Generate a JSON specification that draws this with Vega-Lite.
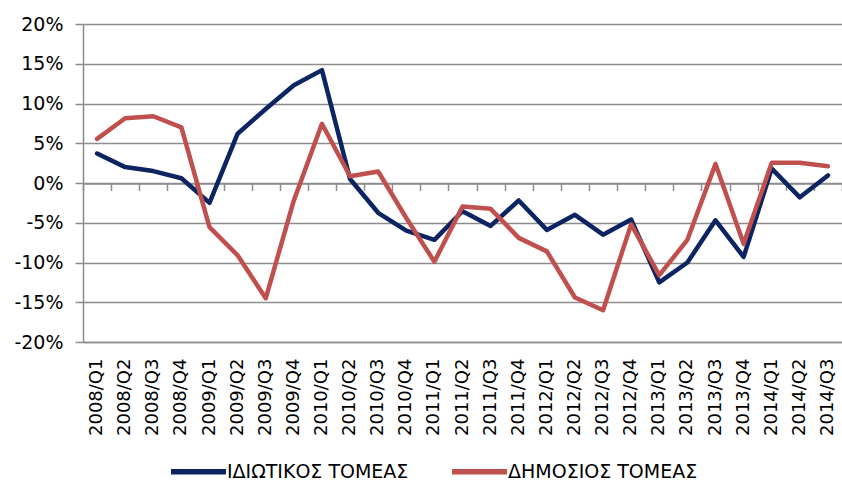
{
  "$schema": "https://vega.github.io/schema/vega-lite/v6.json",
  "autosize": "none",
  "width": 759,
  "height": 318,
  "padding": {"left": 83, "top": 24, "right": 0, "bottom": 142},
  "background": "white",
  "config": {
    "view": {"stroke": null},
    "font": "DejaVu Sans"
  },
  "data": {
    "values": [
      {"q": "2008/Q1", "s": "ΙΔΙΩΤΙΚΟΣ ΤΟΜΕΑΣ", "v": 3.7},
      {"q": "2008/Q2", "s": "ΙΔΙΩΤΙΚΟΣ ΤΟΜΕΑΣ", "v": 2.0},
      {"q": "2008/Q3", "s": "ΙΔΙΩΤΙΚΟΣ ΤΟΜΕΑΣ", "v": 1.5},
      {"q": "2008/Q4", "s": "ΙΔΙΩΤΙΚΟΣ ΤΟΜΕΑΣ", "v": 0.6},
      {"q": "2009/Q1", "s": "ΙΔΙΩΤΙΚΟΣ ΤΟΜΕΑΣ", "v": -2.5},
      {"q": "2009/Q2", "s": "ΙΔΙΩΤΙΚΟΣ ΤΟΜΕΑΣ", "v": 6.2},
      {"q": "2009/Q3", "s": "ΙΔΙΩΤΙΚΟΣ ΤΟΜΕΑΣ", "v": 9.3},
      {"q": "2009/Q4", "s": "ΙΔΙΩΤΙΚΟΣ ΤΟΜΕΑΣ", "v": 12.3},
      {"q": "2010/Q1", "s": "ΙΔΙΩΤΙΚΟΣ ΤΟΜΕΑΣ", "v": 14.2},
      {"q": "2010/Q2", "s": "ΙΔΙΩΤΙΚΟΣ ΤΟΜΕΑΣ", "v": 0.5},
      {"q": "2010/Q3", "s": "ΙΔΙΩΤΙΚΟΣ ΤΟΜΕΑΣ", "v": -3.75},
      {"q": "2010/Q4", "s": "ΙΔΙΩΤΙΚΟΣ ΤΟΜΕΑΣ", "v": -6.0},
      {"q": "2011/Q1", "s": "ΙΔΙΩΤΙΚΟΣ ΤΟΜΕΑΣ", "v": -7.15},
      {"q": "2011/Q2", "s": "ΙΔΙΩΤΙΚΟΣ ΤΟΜΕΑΣ", "v": -3.55},
      {"q": "2011/Q3", "s": "ΙΔΙΩΤΙΚΟΣ ΤΟΜΕΑΣ", "v": -5.4},
      {"q": "2011/Q4", "s": "ΙΔΙΩΤΙΚΟΣ ΤΟΜΕΑΣ", "v": -2.2},
      {"q": "2012/Q1", "s": "ΙΔΙΩΤΙΚΟΣ ΤΟΜΕΑΣ", "v": -5.9},
      {"q": "2012/Q2", "s": "ΙΔΙΩΤΙΚΟΣ ΤΟΜΕΑΣ", "v": -4.0},
      {"q": "2012/Q3", "s": "ΙΔΙΩΤΙΚΟΣ ΤΟΜΕΑΣ", "v": -6.5},
      {"q": "2012/Q4", "s": "ΙΔΙΩΤΙΚΟΣ ΤΟΜΕΑΣ", "v": -4.6},
      {"q": "2013/Q1", "s": "ΙΔΙΩΤΙΚΟΣ ΤΟΜΕΑΣ", "v": -12.5},
      {"q": "2013/Q2", "s": "ΙΔΙΩΤΙΚΟΣ ΤΟΜΕΑΣ", "v": -10.0},
      {"q": "2013/Q3", "s": "ΙΔΙΩΤΙΚΟΣ ΤΟΜΕΑΣ", "v": -4.7},
      {"q": "2013/Q4", "s": "ΙΔΙΩΤΙΚΟΣ ΤΟΜΕΑΣ", "v": -9.3},
      {"q": "2014/Q1", "s": "ΙΔΙΩΤΙΚΟΣ ΤΟΜΕΑΣ", "v": 1.8},
      {"q": "2014/Q2", "s": "ΙΔΙΩΤΙΚΟΣ ΤΟΜΕΑΣ", "v": -1.8},
      {"q": "2014/Q3", "s": "ΙΔΙΩΤΙΚΟΣ ΤΟΜΕΑΣ", "v": 0.95},
      {"q": "2008/Q1", "s": "ΔΗΜΟΣΙΟΣ ΤΟΜΕΑΣ", "v": 5.55},
      {"q": "2008/Q2", "s": "ΔΗΜΟΣΙΟΣ ΤΟΜΕΑΣ", "v": 8.15},
      {"q": "2008/Q3", "s": "ΔΗΜΟΣΙΟΣ ΤΟΜΕΑΣ", "v": 8.4},
      {"q": "2008/Q4", "s": "ΔΗΜΟΣΙΟΣ ΤΟΜΕΑΣ", "v": 7.0},
      {"q": "2009/Q1", "s": "ΔΗΜΟΣΙΟΣ ΤΟΜΕΑΣ", "v": -5.55},
      {"q": "2009/Q2", "s": "ΔΗΜΟΣΙΟΣ ΤΟΜΕΑΣ", "v": -9.1},
      {"q": "2009/Q3", "s": "ΔΗΜΟΣΙΟΣ ΤΟΜΕΑΣ", "v": -14.5},
      {"q": "2009/Q4", "s": "ΔΗΜΟΣΙΟΣ ΤΟΜΕΑΣ", "v": -2.2},
      {"q": "2010/Q1", "s": "ΔΗΜΟΣΙΟΣ ΤΟΜΕΑΣ", "v": 7.45},
      {"q": "2010/Q2", "s": "ΔΗΜΟΣΙΟΣ ΤΟΜΕΑΣ", "v": 0.85},
      {"q": "2010/Q3", "s": "ΔΗΜΟΣΙΟΣ ΤΟΜΕΑΣ", "v": 1.45},
      {"q": "2010/Q4", "s": "ΔΗΜΟΣΙΟΣ ΤΟΜΕΑΣ", "v": -4.4},
      {"q": "2011/Q1", "s": "ΔΗΜΟΣΙΟΣ ΤΟΜΕΑΣ", "v": -9.9},
      {"q": "2011/Q2", "s": "ΔΗΜΟΣΙΟΣ ΤΟΜΕΑΣ", "v": -2.95},
      {"q": "2011/Q3", "s": "ΔΗΜΟΣΙΟΣ ΤΟΜΕΑΣ", "v": -3.25},
      {"q": "2011/Q4", "s": "ΔΗΜΟΣΙΟΣ ΤΟΜΕΑΣ", "v": -6.9},
      {"q": "2012/Q1", "s": "ΔΗΜΟΣΙΟΣ ΤΟΜΕΑΣ", "v": -8.6},
      {"q": "2012/Q2", "s": "ΔΗΜΟΣΙΟΣ ΤΟΜΕΑΣ", "v": -14.4},
      {"q": "2012/Q3", "s": "ΔΗΜΟΣΙΟΣ ΤΟΜΕΑΣ", "v": -16.0},
      {"q": "2012/Q4", "s": "ΔΗΜΟΣΙΟΣ ΤΟΜΕΑΣ", "v": -5.2},
      {"q": "2013/Q1", "s": "ΔΗΜΟΣΙΟΣ ΤΟΜΕΑΣ", "v": -11.6},
      {"q": "2013/Q2", "s": "ΔΗΜΟΣΙΟΣ ΤΟΜΕΑΣ", "v": -7.15},
      {"q": "2013/Q3", "s": "ΔΗΜΟΣΙΟΣ ΤΟΜΕΑΣ", "v": 2.4},
      {"q": "2013/Q4", "s": "ΔΗΜΟΣΙΟΣ ΤΟΜΕΑΣ", "v": -7.65},
      {"q": "2014/Q1", "s": "ΔΗΜΟΣΙΟΣ ΤΟΜΕΑΣ", "v": 2.55},
      {"q": "2014/Q2", "s": "ΔΗΜΟΣΙΟΣ ΤΟΜΕΑΣ", "v": 2.55},
      {"q": "2014/Q3", "s": "ΔΗΜΟΣΙΟΣ ΤΟΜΕΑΣ", "v": 2.1}
    ]
  },
  "resolve": {"axis": {"x": "independent"}},
  "layer": [
    {
      "mark": {"type": "point", "opacity": 0},
      "encoding": {
        "x": {
          "field": "q", "type": "ordinal",
          "scale": {"type": "band", "paddingInner": 0, "paddingOuter": 0},
          "axis": {
            "orient": "bottom", "offset": -158.5, "title": null, "labels": false,
            "tickBand": "extent", "tickSize": 7, "tickColor": "#8c8c8c", "tickWidth": 1.5,
            "domainColor": "#8c8c8c", "domainWidth": 1.5, "grid": false
          }
        }
      }
    },
    {
      "mark": {"type": "line", "strokeWidth": 4.5, "strokeJoin": "round", "strokeCap": "round"},
      "encoding": {
        "x": {
          "field": "q", "type": "ordinal",
          "scale": {"type": "band", "paddingInner": 0, "paddingOuter": 0},
          "axis": {
            "orient": "bottom", "title": null, "labelAngle": 270, "labelAlign": "right",
            "labelBaseline": "middle", "labelFontSize": 18, "labelColor": "#000000",
            "labelPadding": 16, "ticks": false, "domainColor": "#8c8c8c", "domainWidth": 1.5,
            "grid": false
          }
        },
        "y": {
          "field": "v", "type": "quantitative",
          "scale": {"domain": [-20, 20], "nice": false, "zero": false},
          "axis": {
            "title": null, "values": [-20, -15, -10, -5, 0, 5, 10, 15, 20],
            "labelExpr": "datum.value + '%'", "labelFontSize": 19, "labelColor": "#000000",
            "labelPadding": 12, "tickSize": 8, "tickColor": "#8c8c8c", "tickWidth": 1.5,
            "domainColor": "#8c8c8c", "domainWidth": 1.5,
            "grid": true, "gridColor": "#8c8c8c", "gridWidth": 1.5
          }
        },
        "color": {
          "field": "s", "type": "nominal",
          "sort": ["ΙΔΙΩΤΙΚΟΣ ΤΟΜΕΑΣ", "ΔΗΜΟΣΙΟΣ ΤΟΜΕΑΣ"],
          "scale": {"domain": ["ΙΔΙΩΤΙΚΟΣ ΤΟΜΕΑΣ", "ΔΗΜΟΣΙΟΣ ΤΟΜΕΑΣ"], "range": ["#0c2461", "#c0504d"]},
          "legend": {
            "title": null, "orient": "none", "direction": "horizontal",
            "legendX": 85, "legendY": 417,
            "symbolType": "stroke", "symbolSize": 3025, "symbolStrokeWidth": 5.5,
            "labelFontSize": 19, "labelColor": "#000000", "labelOffset": -2,
            "columnPadding": 32, "labelLimit": 400
          }
        }
      }
    }
  ]
}
